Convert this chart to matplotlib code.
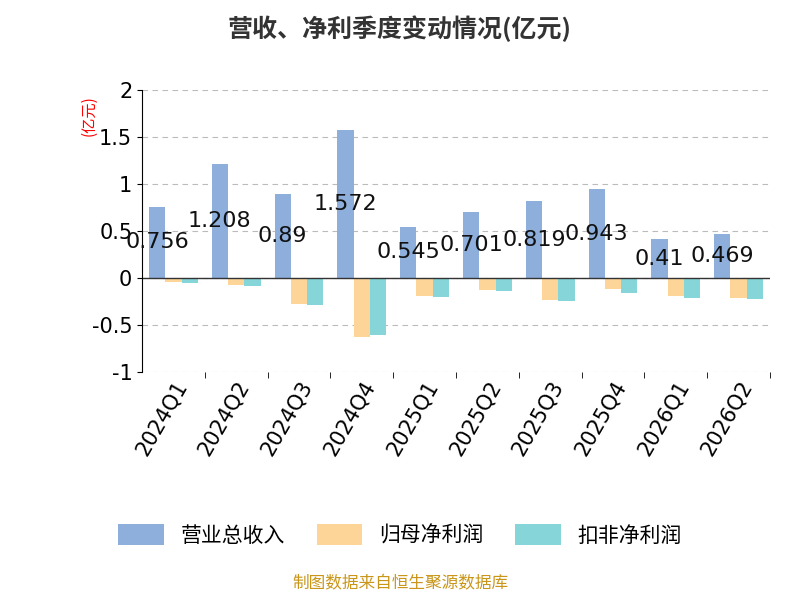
import matplotlib.pyplot as plt
import numpy as np

plt.rcParams['font.family'] = ['Noto Sans CJK SC', 'DejaVu Sans']

quarters = ["2024Q1", "2024Q2", "2024Q3", "2024Q4", "2025Q1", "2025Q2",
            "2025Q3", "2025Q4", "2026Q1", "2026Q2"]
revenue = [0.756, 1.208, 0.89, 1.572, 0.545, 0.701, 0.819, 0.943, 0.41, 0.469]
net_profit = [-0.04, -0.07, -0.28, -0.63, -0.19, -0.13, -0.23, -0.12, -0.19, -0.21]
deducted_profit = [-0.05, -0.09, -0.29, -0.61, -0.20, -0.14, -0.24, -0.16, -0.21, -0.22]

fig = plt.figure(figsize=(8, 6), dpi=100)
ax = fig.add_axes([0.1775, 0.38, 0.785, 0.47])

x = np.arange(len(quarters))
w = 0.26
ax.bar(x - w, revenue, w, color="#8eaedb", label="营业总收入")
ax.bar(x, net_profit, w, color="#fdd598", label="归母净利润")
ax.bar(x + w, deducted_profit, w, color="#86d5d8", label="扣非净利润")

for xi, v in zip(x, revenue):
    ax.text(xi - w, v / 2, f"{v:g}", ha="center", va="center", fontsize=16,
            color="#111", family="DejaVu Sans")

ax.set_ylim(-1, 2)
ax.set_xlim(-0.5, len(quarters) - 0.5)
ax.set_yticks([-1, -0.5, 0, 0.5, 1, 1.5, 2])
ax.set_yticklabels(["-1", "-0.5", "0", "0.5", "1", "1.5", "2"], fontsize=15, family="DejaVu Sans")
ax.set_xticks(x)
ax.set_xticklabels(quarters, rotation=60, ha="right", rotation_mode="anchor", fontsize=15,
                   family="DejaVu Sans")
ax.yaxis.grid(True, linestyle=(0, (5, 4)), color="#bbbbbb")
ax.set_axisbelow(True)
for s in ["top", "right", "bottom"]:
    ax.spines[s].set_visible(False)
ax.axhline(0, color="#333", linewidth=1)
ax.set_xticks(x + 0.5, minor=True)
ax.tick_params(axis="x", which="major", length=0)
ax.tick_params(axis="x", which="minor", length=4, direction="out")

ax.text(-0.085, 0.98, "(亿元)", transform=ax.transAxes, rotation=90, color="red",
        fontsize=11, ha="center", va="top")

fig.suptitle("营收、净利季度变动情况(亿元)", y=0.975, fontsize=18, fontweight="bold", color="#333")
fig.legend(loc="center", bbox_to_anchor=(0.5, 0.108), ncol=3, frameon=False, fontsize=15,
           handlelength=2.2, handleheight=1.2, columnspacing=1.5)
fig.text(0.5, 0.02, "制图数据来自恒生聚源数据库", ha="center", fontsize=12, color="#c9961a")

fig.savefig("out.png")
